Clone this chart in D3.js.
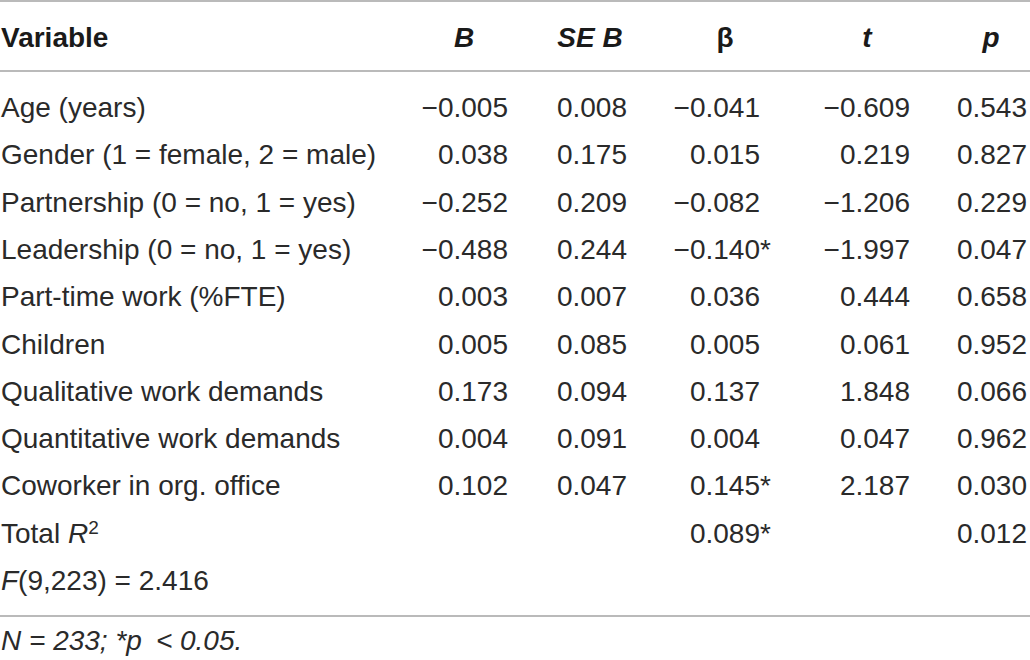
<!DOCTYPE html>
<html>
<head>
<meta charset="utf-8">
<script src="https://cdn.jsdelivr.net/npm/d3@7"></script>
<style>
  body { margin: 0; background: #fff; }
  text { font-family: "Liberation Sans", Arial, Helvetica, sans-serif; fill: #2a2a2a; }
</style>
</head>
<body>
<script>
// Table data
var variables = [
  "Age (years)",
  "Gender (1 = female, 2 = male)",
  "Partnership (0 = no, 1 = yes)",
  "Leadership (0 = no, 1 = yes)",
  "Part-time work (%FTE)",
  "Children",
  "Qualitative work demands",
  "Quantitative work demands",
  "Coworker in org. office"
];
var bVals    = [-0.005, 0.038, -0.252, -0.488, 0.003, 0.005, 0.173, 0.004, 0.102];
var seVals   = [0.008, 0.175, 0.209, 0.244, 0.007, 0.085, 0.094, 0.091, 0.047];
var betaVals = [-0.041, 0.015, -0.082, -0.140, 0.036, 0.005, 0.137, 0.004, 0.145];
var betaSig  = [false, false, false, true, false, false, false, false, true];
var tVals    = [-0.609, 0.219, -1.206, -1.997, 0.444, 0.061, 1.848, 0.047, 2.187];
var pVals    = [0.543, 0.827, 0.229, 0.047, 0.658, 0.952, 0.066, 0.962, 0.030];

var totalR2 = 0.089, totalR2Sig = true, totalP = 0.012;
var fDf = [9, 223], fValue = 2.416;
var sampleN = 233, alpha = 0.05;

// Size globals
var svgWidth = 1030, svgHeight = 660;
var fontSize = 28;
var fmt = d3.format(".3f");

var svg = d3.select('body').append('svg')
    .attr('width', svgWidth)
    .attr('height', svgHeight);

// row index -> text baseline (9 variable rows + 2 summary rows)
var rowY = d3.scaleLinear().domain([0, 10]).range([117, 590]);

// right edges of the numeric columns, header centres above them
var colRight = { b: 508, se: 627, beta: 760, t: 910, p: 1027 };
var headers = [
  { key: 'b', label: 'B', italic: true, x: 464 },
  { key: 'se', label: 'SE B', italic: true, x: 590 },
  { key: 'beta', label: '\u03b2', italic: false, x: 725 },
  { key: 't', label: 't', italic: true, x: 867 },
  { key: 'p', label: 'p', italic: true, x: 991 }
];

// rules
[1, 71, 616].forEach(function(y){
  svg.append('line')
    .attr('x1', 0).attr('x2', svgWidth)
    .attr('y1', y).attr('y2', y)
    .attr('stroke', '#a3a3a3')
    .attr('stroke-width', 1.5);
});

// header
var headY = 47;
svg.append('text')
  .attr('x', 1).attr('y', headY)
  .attr('font-size', fontSize)
  .attr('font-weight', 'bold')
  .style('fill', '#1a1a1a')
  .text('Variable');

svg.selectAll('text.head').data(headers).enter().append('text')
  .attr('class', 'head')
  .attr('x', function(d){ return d.x; })
  .attr('y', headY)
  .attr('text-anchor', 'middle')
  .attr('font-size', fontSize)
  .attr('font-weight', 'bold')
  .attr('font-style', function(d){ return d.italic ? 'italic' : 'normal'; })
  .style('fill', '#1a1a1a')
  .text(function(d){ return d.label; });

// variable rows
var rows = svg.selectAll('g.row').data(variables).enter().append('g')
  .attr('class', 'row')
  .attr('transform', function(d, i){ return 'translate(0,' + rowY(i) + ')'; })
  .attr('font-size', fontSize);

rows.append('text').attr('x', 1).text(function(d){ return d; });

function numCol(values, key){
  rows.append('text')
    .attr('x', colRight[key])
    .attr('text-anchor', 'end')
    .text(function(d, i){ return fmt(values[i]); });
}
numCol(bVals, 'b');
numCol(seVals, 'se');
numCol(betaVals, 'beta');
numCol(tVals, 't');
numCol(pVals, 'p');

// significance stars hang past the beta column
rows.filter(function(d, i){ return betaSig[i]; })
  .append('text')
  .attr('x', colRight.beta)
  .text('*');

// Total R^2 row
var r2 = svg.append('g')
  .attr('transform', 'translate(0,' + rowY(9) + ')')
  .attr('font-size', fontSize);
var r2Label = r2.append('text').attr('x', 1);
r2Label.append('tspan').text('Total ');
r2Label.append('tspan').attr('font-style', 'italic').text('R');
r2Label.append('tspan').attr('font-size', 19).attr('dy', -9).text('2');
r2.append('text').attr('x', colRight.beta).attr('text-anchor', 'end').text(fmt(totalR2));
if (totalR2Sig) r2.append('text').attr('x', colRight.beta).text('*');
r2.append('text').attr('x', colRight.p).attr('text-anchor', 'end').text(fmt(totalP));

// F row
var fRow = svg.append('text')
  .attr('x', 1).attr('y', rowY(10))
  .attr('font-size', fontSize);
fRow.append('tspan').attr('font-style', 'italic').text('F');
fRow.append('tspan').text('(' + fDf.join(',') + ') = ' + fmt(fValue));

// footnote
svg.append('text')
  .attr('x', 1).attr('y', 650)
  .attr('font-size', fontSize)
  .attr('font-style', 'italic')
  .text('N = ' + sampleN + '; *p\u2002< ' + d3.format(".2f")(alpha) + '.');
</script>
</body>
</html>
